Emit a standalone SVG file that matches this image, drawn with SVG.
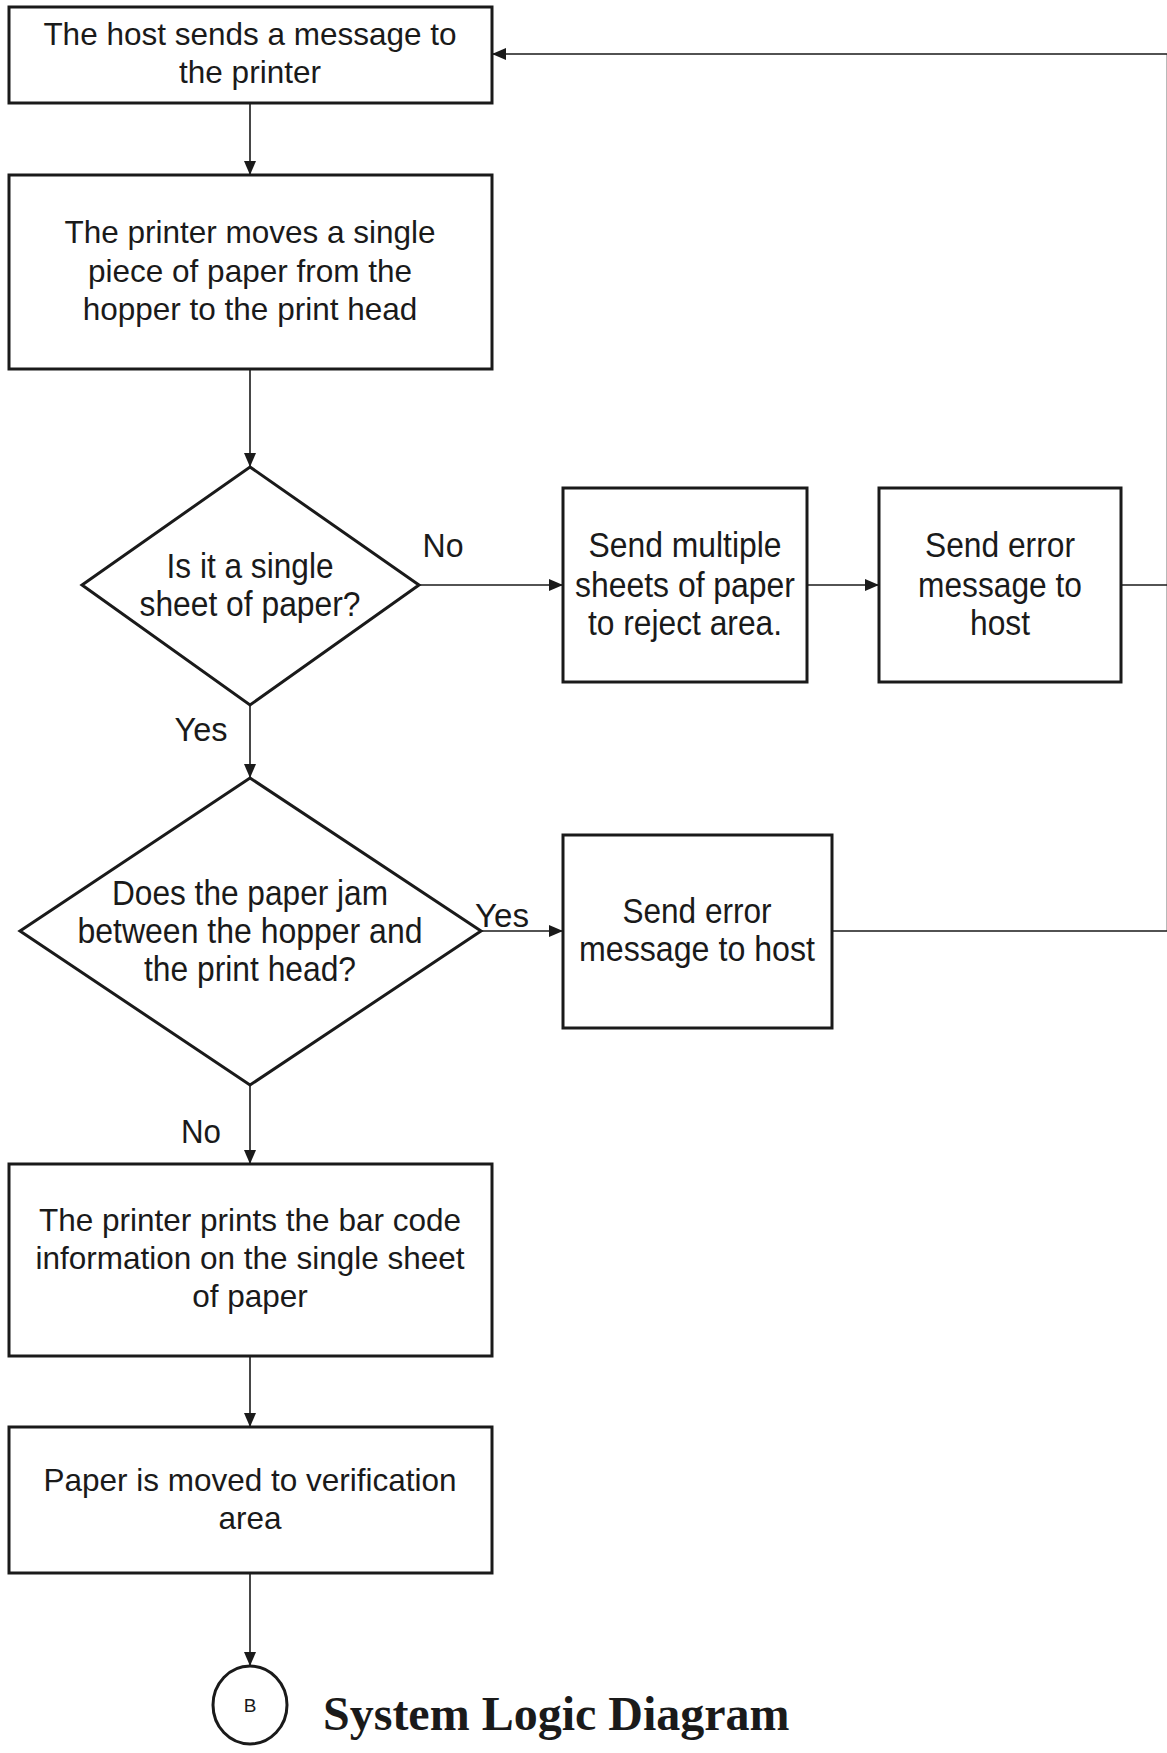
<svg xmlns="http://www.w3.org/2000/svg" width="1167" height="1753" viewBox="0 0 1167 1753">
<style>
.box{fill:#fff;stroke:#1a1a1a;stroke-width:3}
.ln{fill:none;stroke:#1a1a1a;stroke-width:1.6}
.t{font-family:"Liberation Sans",Arial,sans-serif;font-size:31.5px;fill:#1a1a1a;text-anchor:middle}
.c{font-family:"Liberation Sans",Arial,sans-serif;font-size:35px;fill:#1a1a1a;text-anchor:middle}
.lb{font-family:"Liberation Sans",Arial,sans-serif;font-size:34px;fill:#1a1a1a}
</style>
<defs>
<marker id="ah" viewBox="0 0 14 12" refX="14" refY="6" markerWidth="14" markerHeight="12" markerUnits="userSpaceOnUse" orient="auto">
<path d="M0,0 L14,6 L0,12 Z" fill="#1a1a1a"/>
</marker>
</defs>
<rect width="1167" height="1753" fill="#fff"/>
<g id="connectors">
<line class="ln" x1="250" y1="104" x2="250" y2="175" marker-end="url(#ah)"/>
<line class="ln" x1="250" y1="369" x2="250" y2="467" marker-end="url(#ah)"/>
<line class="ln" x1="419" y1="585" x2="563" y2="585" marker-end="url(#ah)"/>
<line class="ln" x1="807" y1="585" x2="879" y2="585" marker-end="url(#ah)"/>
<line class="ln" x1="250" y1="705" x2="250" y2="778" marker-end="url(#ah)"/>
<line class="ln" x1="481" y1="931" x2="563" y2="931" marker-end="url(#ah)"/>
<line class="ln" x1="250" y1="1085" x2="250" y2="1164" marker-end="url(#ah)"/>
<line class="ln" x1="250" y1="1356" x2="250" y2="1427" marker-end="url(#ah)"/>
<line class="ln" x1="250" y1="1573" x2="250" y2="1666" marker-end="url(#ah)"/>
<polyline class="ln" points="1121,585 1167,585"/>
<polyline class="ln" points="832,931 1167.5,931 1167.5,54 492,54" marker-end="url(#ah)"/>
<text class="lb" x="443" y="557" text-anchor="middle" textLength="41" lengthAdjust="spacingAndGlyphs">No</text>
<text class="lb" x="201" y="741" text-anchor="middle" textLength="53" lengthAdjust="spacingAndGlyphs">Yes</text>
<text class="lb" x="502" y="927" text-anchor="middle" textLength="54" lengthAdjust="spacingAndGlyphs">Yes</text>
<text class="lb" x="201" y="1143" text-anchor="middle" textLength="40" lengthAdjust="spacingAndGlyphs">No</text>
</g>
<g id="n1">
<rect class="box" x="9" y="7" width="483" height="96"/>
<text class="t" x="250" y="45">The host sends a message to</text>
<text class="t" x="250" y="83">the printer</text>
</g>
<g id="n2">
<rect class="box" x="9" y="175" width="483" height="194"/>
<text class="t" x="250" y="243">The printer moves a single</text>
<text class="t" x="250" y="282">piece of paper from the</text>
<text class="t" x="250" y="320">hopper to the print head</text>
</g>
<g id="n3">
<polygon class="box" points="250,467 419,585 250,705 82,585"/>
<text class="c" x="250" y="578" textLength="167" lengthAdjust="spacingAndGlyphs">Is it a single</text>
<text class="c" x="250" y="616" textLength="221" lengthAdjust="spacingAndGlyphs">sheet of paper?</text>
</g>
<g id="n4">
<rect class="box" x="563" y="488" width="244" height="194"/>
<text class="c" x="685" y="557" textLength="193" lengthAdjust="spacingAndGlyphs">Send multiple</text>
<text class="c" x="685" y="597" textLength="220" lengthAdjust="spacingAndGlyphs">sheets of paper</text>
<text class="c" x="685" y="635" textLength="194" lengthAdjust="spacingAndGlyphs">to reject area.</text>
</g>
<g id="n5">
<rect class="box" x="879" y="488" width="242" height="194"/>
<text class="c" x="1000" y="557" textLength="150" lengthAdjust="spacingAndGlyphs">Send error</text>
<text class="c" x="1000" y="597" textLength="164" lengthAdjust="spacingAndGlyphs">message to</text>
<text class="c" x="1000" y="635" textLength="60" lengthAdjust="spacingAndGlyphs">host</text>
</g>
<g id="n6">
<polygon class="box" points="250,778 481,931 250,1085 20,931"/>
<text class="c" x="250" y="905" textLength="276" lengthAdjust="spacingAndGlyphs">Does the paper jam</text>
<text class="c" x="250" y="943" textLength="345" lengthAdjust="spacingAndGlyphs">between the hopper and</text>
<text class="c" x="250" y="981" textLength="212" lengthAdjust="spacingAndGlyphs">the print head?</text>
</g>
<g id="n7">
<rect class="box" x="563" y="835" width="269" height="193"/>
<text class="c" x="697" y="923" textLength="149" lengthAdjust="spacingAndGlyphs">Send error</text>
<text class="c" x="697" y="961" textLength="236" lengthAdjust="spacingAndGlyphs">message to host</text>
</g>
<g id="n8">
<rect class="box" x="9" y="1164" width="483" height="192"/>
<text class="t" x="250" y="1231">The printer prints the bar code</text>
<text class="t" x="250" y="1269">information on the single sheet</text>
<text class="t" x="250" y="1307">of paper</text>
</g>
<g id="n9">
<rect class="box" x="9" y="1427" width="483" height="146"/>
<text class="t" x="250" y="1491">Paper is moved to verification</text>
<text class="t" x="250" y="1529">area</text>
</g>
<g id="n10">
<ellipse class="box" cx="250" cy="1705" rx="37" ry="39"/>
<text x="250" y="1712" font-family="Liberation Sans, Arial, sans-serif" font-size="19" text-anchor="middle" fill="#1a1a1a">B</text>
</g>
<text x="323" y="1730" font-family="Liberation Serif, 'Times New Roman', serif" font-size="48" font-weight="bold" fill="#1a1a1a">System Logic Diagram</text>
</svg>
